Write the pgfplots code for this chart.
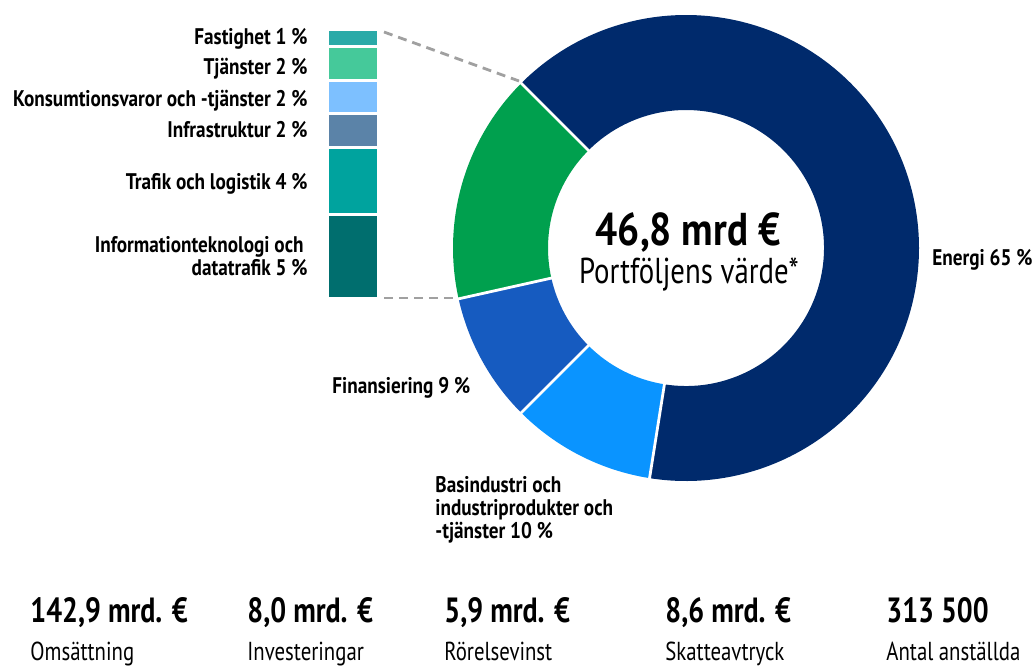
\documentclass[border=0pt]{standalone}
\usepackage{fontspec}
\setmainfont{PT Sans}[FakeStretch=0.85]
\newfontfamily\numfont{PT Sans}[FakeStretch=0.8]
\usepackage{pgfplots}
\pgfplotsset{compat=1.18}
\definecolor{energi}{HTML}{002A6C}
\definecolor{basind}{HTML}{0A94FF}
\definecolor{finans}{HTML}{165BC0}
\definecolor{ovrigt}{HTML}{00A04E}
\definecolor{itc}{HTML}{006E6E}
\definecolor{trafik}{HTML}{00A39E}
\definecolor{infra}{HTML}{5B83A8}
\definecolor{konsum}{HTML}{7DC0FF}
\definecolor{tjanst}{HTML}{45C99A}
\definecolor{fastig}{HTML}{2AAAA8}
\definecolor{dashgray}{HTML}{A0A0A0}
% donut shares (percent), clockwise from 135 degrees
\def\vE{65}\def\vB{10}\def\vF{9}\def\vO{16}
\def\Ro{116.5pt}\def\Ri{69pt}
\newcommand\seg[3]{\fill[#1] ({135-3.6*(#2)}:\Ro) arc[start angle={135-3.6*(#2)}, end angle={135-3.6*(#3)}, radius=\Ro] -- ({135-3.6*(#3)}:\Ri) arc[start angle={135-3.6*(#3)}, end angle={135-3.6*(#2)}, radius=\Ri] -- cycle;}
\newcommand\sep[1]{\draw[white, line width=1.4pt] ({135-3.6*(#1)}:{\Ri-1pt}) -- ({135-3.6*(#1)}:{\Ro+1pt});}
\newcommand\kpi[3]{\node[font=\numfont\bfseries\fontsize{17.5}{20}\selectfont, anchor=base west, inner sep=0pt] at (axis cs:#1,622) {#2};
  \node[font=\numfont\fontsize{13}{15}\selectfont, anchor=base west, inner sep=0pt] at (axis cs:#1,660) {#3};}
\begin{document}
\begin{tikzpicture}
\begin{axis}[name=main, scale only axis, width=517pt, height=332.5pt,
  xmin=0, xmax=1034, ymin=0, ymax=665, y dir=reverse, hide axis, clip=false]
\begin{scope}[shift={(axis cs:686,248)}]
\seg{energi}{0}{\vE}
\seg{basind}{\vE}{\vE+\vB}
\seg{finans}{\vE+\vB}{\vE+\vB+\vF}
\seg{ovrigt}{\vE+\vB+\vF}{\vE+\vB+\vF+\vO}
\sep{0}
\sep{\vE}
\sep{\vE+\vB}
\sep{\vE+\vB+\vF}
\end{scope}
% connector lines
\draw[dashgray, line width=1.4pt, dash pattern=on 4.5pt off 3pt] (axis cs:384,32) -- (axis cs:519,81);
\draw[dashgray, line width=1.4pt, dash pattern=on 4.5pt off 3pt] (axis cs:384,298) -- (axis cs:455,298);
% labels of the stacked bar
\begin{scope}[every node/.style={font=\bfseries\fontsize{11.3}{13}\selectfont, anchor=base east, inner sep=0pt}]
\node at (axis cs:308,44) {Fastighet 1 \%};
\node at (axis cs:308,74.5) {Tjänster 2 \%};
\node at (axis cs:308,106) {Konsumtionsvaror och -tjänster 2 \%};
\node at (axis cs:308,137) {Infrastruktur 2 \%};
\node at (axis cs:308,189.5) {Trafik och logistik 4 \%};
\node at (axis cs:304,252) {Informationteknologi och};
\node at (axis cs:308,275.5) {datatrafik 5 \%};
\end{scope}
\begin{scope}[every node/.style={font=\bfseries\fontsize{11.3}{13}\selectfont, anchor=base west, inner sep=0pt}]
\node at (axis cs:932,265) {Energi 65 \%};
\node at (axis cs:332,393) {Finansiering 9 \%};
\node at (axis cs:435,492) {Basindustri och};
\node at (axis cs:435,515) {industriprodukter och};
\node at (axis cs:435,538.5) {-tjänster 10 \%};
\end{scope}
% centre
\node[anchor=base, inner sep=0pt, font=\bfseries\fontsize{23}{26}\selectfont] at (axis cs:688,245) {46,8 mrd €};
\node[anchor=base, inner sep=0pt, font=\numfont\fontsize{18}{21}\selectfont] at (axis cs:689,283) {Portföljens värde*};
% key figures
\kpi{30}{142,9 mrd. €}{Omsättning}
\kpi{247}{8,0 mrd. €}{Investeringar}
\kpi{444}{5,9 mrd. €}{Rörelsevinst}
\kpi{665}{8,6 mrd. €}{Skatteavtryck}
\kpi{886}{313 500}{Antal anställda}
\end{axis}
\begin{axis}[at={(164pt,183.5pt)}, anchor=south west, scale only axis, width=25pt, height=134pt,
  xmin=-0.5, xmax=0.5, ymin=0, ymax=16, ybar stacked, bar width=25pt, hide axis, clip=false]
\addplot[fill=itc, draw=white, line width=1.4pt] coordinates {(0,5)};
\addplot[fill=trafik, draw=white, line width=1.4pt] coordinates {(0,4)};
\addplot[fill=infra, draw=white, line width=1.4pt] coordinates {(0,2)};
\addplot[fill=konsum, draw=white, line width=1.4pt] coordinates {(0,2)};
\addplot[fill=tjanst, draw=white, line width=1.4pt] coordinates {(0,2)};
\addplot[fill=fastig, draw=white, line width=1.4pt] coordinates {(0,1)};
\end{axis}
\pgfresetboundingbox
\path (main.south west) rectangle (main.north east);
\end{tikzpicture}
\end{document}
